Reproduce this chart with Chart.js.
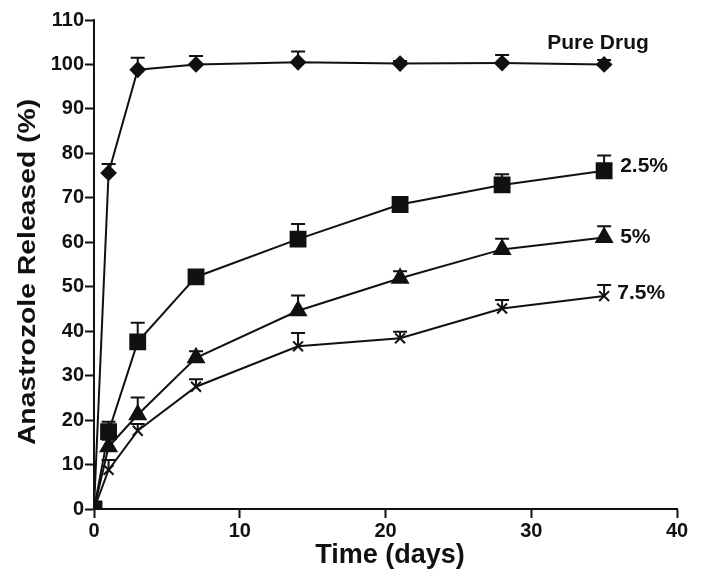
<!DOCTYPE html>
<html>
<head>
<meta charset="utf-8">
<script src="https://cdn.jsdelivr.net/npm/chart.js@4/dist/chart.umd.min.js"></script>
<style>
  html, body { margin: 0; padding: 0; background: #fff; }
  #wrap { width: 704px; height: 571px; }
</style>
</head>
<body>
<div id="wrap"><canvas id="release"></canvas></div>
<script>
// time points (days)
const days = [0, 1, 3, 7, 14, 21, 28, 35];

// % released and upper error (SD) per formulation
const pureDrug = [0, 75.6, 98.8, 100, 100.5, 100.2, 100.3, 100];
const pureErr  = [0, 2.0, 2.7, 1.9, 2.4, 0.6, 1.8, 1.0];
const f25      = [0, 17.4, 37.6, 52.2, 60.7, 68.5, 72.9, 76.1];
const f25Err   = [0, 2.2, 4.3, 0.5, 3.4, 0.5, 2.4, 3.4];
const f5       = [0, 14.0, 21.2, 34.0, 44.6, 51.9, 58.4, 61.1];
const f5Err    = [0, 1.6, 3.9, 1.5, 3.4, 1.6, 2.4, 2.5];
const f75      = [0, 8.8, 17.6, 27.5, 36.6, 38.4, 45.1, 47.9];
const f75Err   = [0, 2.2, 1.5, 1.7, 3.0, 1.5, 1.9, 2.5];

const seriesNames = ['Pure Drug', '2.5%', '5%', '7.5%'];
// label positions next to the curves [x (days), y (%)]
const labelX = [31.1, 36.1, 36.1, 35.9];
const labelY = [104.8, 77.2, 61.2, 48.6];

const xTicks = [0, 10, 20, 30, 40];
const yMax = 110;

function pts(vals) { return days.map((d, i) => ({x: d, y: vals[i]})); }

const bold = (size) => ({family: 'Liberation Sans, Arial, sans-serif', size: size, weight: 'bold'});

const errorBars = {
  id: 'errorBars',
  afterDatasetsDraw(chart) {
    const ctx = chart.ctx;
    const xs = chart.scales.x, ys = chart.scales.y;
    const errs = [pureErr, f25Err, f5Err, f75Err];
    const vals = [pureDrug, f25, f5, f75];
    ctx.save();
    ctx.strokeStyle = '#111';
    ctx.lineWidth = 2;
    errs.forEach((e, s) => {
      days.forEach((d, i) => {
        if (!e[i]) return;
        const px = xs.getPixelForValue(d);
        const y0 = ys.getPixelForValue(vals[s][i]);
        const y1 = ys.getPixelForValue(vals[s][i] + e[i]);
        ctx.beginPath();
        ctx.moveTo(px, y0);
        ctx.lineTo(px, y1);
        ctx.moveTo(px - 7, y1);
        ctx.lineTo(px + 7, y1);
        ctx.stroke();
      });
    });
    ctx.restore();
  },
  afterDraw(chart) {
    const ctx = chart.ctx;
    const xs = chart.scales.x, ys = chart.scales.y;
    ctx.save();
    ctx.fillStyle = '#111';
    ctx.textBaseline = 'middle';
    ctx.textAlign = 'left';
    ctx.font = 'bold 21px "Liberation Sans", Arial, sans-serif';
    seriesNames.forEach((n, i) => {
      ctx.fillText(n, xs.getPixelForValue(labelX[i]), ys.getPixelForValue(labelY[i]));
    });
    // axis titles
    ctx.textAlign = 'center';
    ctx.font = 'bold 27px "Liberation Sans", Arial, sans-serif';
    ctx.fillText('Time (days)', 390, 556);
    ctx.translate(28, 272);
    ctx.rotate(-Math.PI / 2);
    ctx.scale(1.18, 1);
    ctx.font = 'bold 24px "Liberation Sans", Arial, sans-serif';
    ctx.fillText('Anastrozole Released (%)', 0, 0);
    ctx.restore();
  }
};

const common = {
  borderColor: '#111',
  backgroundColor: '#111',
  pointBackgroundColor: '#111',
  pointBorderColor: '#111',
  borderWidth: 2,
  tension: 0,
  fill: false
};

new Chart(document.getElementById('release'), {
  type: 'line',
  data: {
    datasets: [
      Object.assign({label: seriesNames[0], data: pts(pureDrug), pointStyle: 'rectRot', pointRadius: 7}, common),
      Object.assign({label: seriesNames[1], data: pts(f25), pointStyle: 'rect', pointRadius: 10.5}, common),
      Object.assign({label: seriesNames[2], data: pts(f5), pointStyle: 'triangle', pointRadius: 9}, common),
      Object.assign({label: seriesNames[3], data: pts(f75), pointStyle: 'crossRot', pointRadius: 7, pointBorderWidth: 2}, common)
    ]
  },
  plugins: [errorBars],
  options: {
    responsive: true,
    maintainAspectRatio: false,
    animation: false,
    layout: { padding: { top: 20, right: 27, left: 0, bottom: 0 } },
    plugins: {
      legend: { display: false },
      tooltip: { enabled: false }
    },
    scales: {
      x: {
        type: 'linear',
        min: 0, max: 40,
        afterBuildTicks: (s) => { s.ticks = xTicks.map(v => ({value: v})); },
        afterFit: (s) => { s.height = 62; },
        grid: { display: true, drawOnChartArea: false, drawTicks: true, tickLength: 9, tickColor: '#111', tickWidth: 2 },
        border: { color: '#111', width: 2 },
        ticks: { color: '#111', font: bold(20), padding: 1, maxRotation: 0 }
      },
      y: {
        min: 0, max: yMax,
        afterFit: (s) => { s.width = 94; },
        grid: { display: true, drawOnChartArea: false, drawTicks: true, tickLength: 9, tickColor: '#111', tickWidth: 2 },
        border: { color: '#111', width: 2 },
        ticks: { stepSize: 10, color: '#111', font: bold(20), padding: 1 }
      }
    }
  }
});
</script>
</body>
</html>
